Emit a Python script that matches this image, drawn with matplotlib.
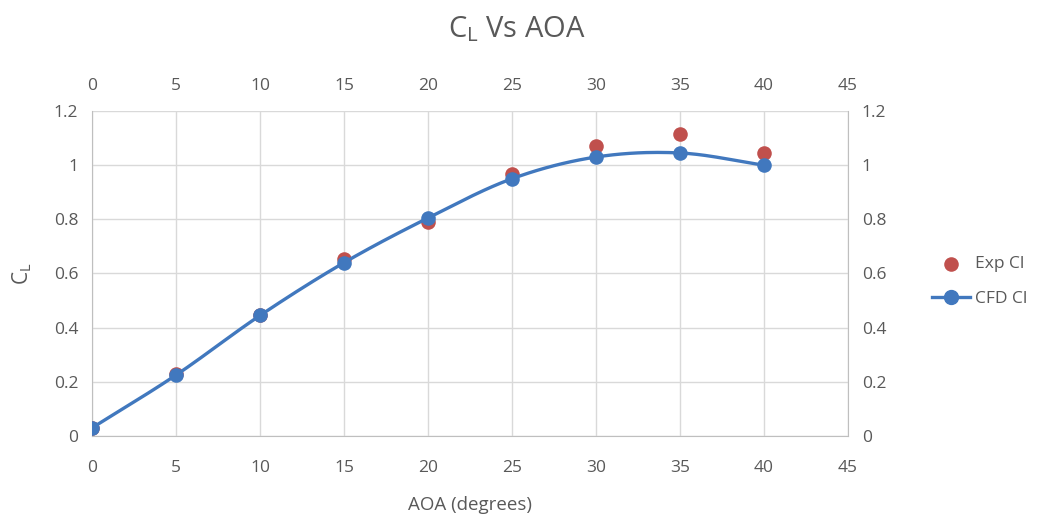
import matplotlib.pyplot as plt
import numpy as np

aoa = [0, 5, 10, 15, 20, 25, 30, 35, 40]
exp_cl = [0.03, 0.228, 0.445, 0.655, 0.79, 0.967, 1.07, 1.115, 1.045]
cfd_cl = [0.03, 0.225, 0.445, 0.64, 0.805, 0.95, 1.03, 1.045, 1.0]

xticks = [0, 5, 10, 15, 20, 25, 30, 35, 40, 45]
yticks = [0, 0.2, 0.4, 0.6, 0.8, 1, 1.2]
ytick_labels = ["0", "0.2", "0.4", "0.6", "0.8", "1", "1.2"]

plt.rcParams['font.family'] = ['Open Sans', 'DejaVu Sans']
txt = '#595959'
grid = '#d9d9d9'
blue = '#4178be'
red = '#c0504d'


def catmull_rom(x, y, n=30):
    # smooth curve through the points, like Excel's "smoothed line"
    x = np.asarray(x, float)
    y = np.asarray(y, float)
    px = np.concatenate([[2 * x[0] - x[1]], x, [2 * x[-1] - x[-2]]])
    py = np.concatenate([[2 * y[0] - y[1]], y, [2 * y[-1] - y[-2]]])
    xs, ys = [], []
    t = np.linspace(0, 1, n, endpoint=False)
    for i in range(1, len(px) - 2):
        for p, out in ((px, xs), (py, ys)):
            p0, p1, p2, p3 = p[i - 1], p[i], p[i + 1], p[i + 2]
            out.extend(0.5 * (2 * p1 + (-p0 + p2) * t
                              + (2 * p0 - 5 * p1 + 4 * p2 - p3) * t ** 2
                              + (-p0 + 3 * p1 - 3 * p2 + p3) * t ** 3))
    xs.append(x[-1])
    ys.append(y[-1])
    return np.array(xs), np.array(ys)


fig = plt.figure(figsize=(10.41, 5.25), dpi=100)
ax = fig.add_axes([0.0884, 0.1695, 0.7262, 0.6191])

ax.scatter(aoa, exp_cl, s=110, color=red, zorder=3, label='Exp Cl', linewidths=0)
sx, sy = catmull_rom(aoa, cfd_cl)
ax.plot(sx, sy, color=blue, lw=2.4, zorder=4)
ax.plot(aoa, cfd_cl, 'o', color=blue, ms=10.5, zorder=5, mew=0)
ax.plot([], [], '-o', color=blue, lw=2.4, ms=10, label='CFD Cl')

ax.set_xlim(0, 45)
ax.set_ylim(0, 1.2)
ax.set_xticks(xticks)
ax.set_yticks(yticks)
ax.set_yticklabels(ytick_labels)
ax.grid(True, color=grid, lw=1)
ax.set_axisbelow(True)
ax.spines['top'].set_visible(False)
for s in ['left', 'bottom', 'right']:
    ax.spines[s].set_color('#bfbfbf')
ax.tick_params(axis='x', length=0, labelsize=12.5, colors=txt, pad=17)
ax.tick_params(axis='y', length=0, labelsize=12.5, colors=txt, pad=10)

ax2 = ax.twiny()
ax2.set_xlim(0, 45)
ax2.set_xticks(xticks)
ax2.tick_params(axis='x', length=0, labelsize=12.5, colors=txt, pad=12)
ax3 = ax.twinx()
ax3.set_ylim(0, 1.2)
ax3.set_yticks(yticks)
ax3.set_yticklabels(ytick_labels)
ax3.tick_params(axis='y', length=0, labelsize=12.5, colors=txt, pad=10)
for a in (ax2, ax3):
    for s in a.spines.values():
        s.set_visible(False)

ax.set_xlabel('AOA (degrees)', fontsize=13.5, color=txt, labelpad=15)
ax.set_ylabel('$\\mathregular{C_L}$', fontsize=15, color=txt, labelpad=14)
fig.text(0.497, 0.945, '$\\mathregular{C_L}$ Vs AOA', fontsize=21, color=txt,
         ha='center', va='center')

leg = ax.legend(loc='center left', bbox_to_anchor=(1.09, 0.475), frameon=False,
                fontsize=12.5, labelcolor=txt, handlelength=2.2, labelspacing=1.1,
                handletextpad=0.3)

fig.savefig('out.png', dpi=100)
